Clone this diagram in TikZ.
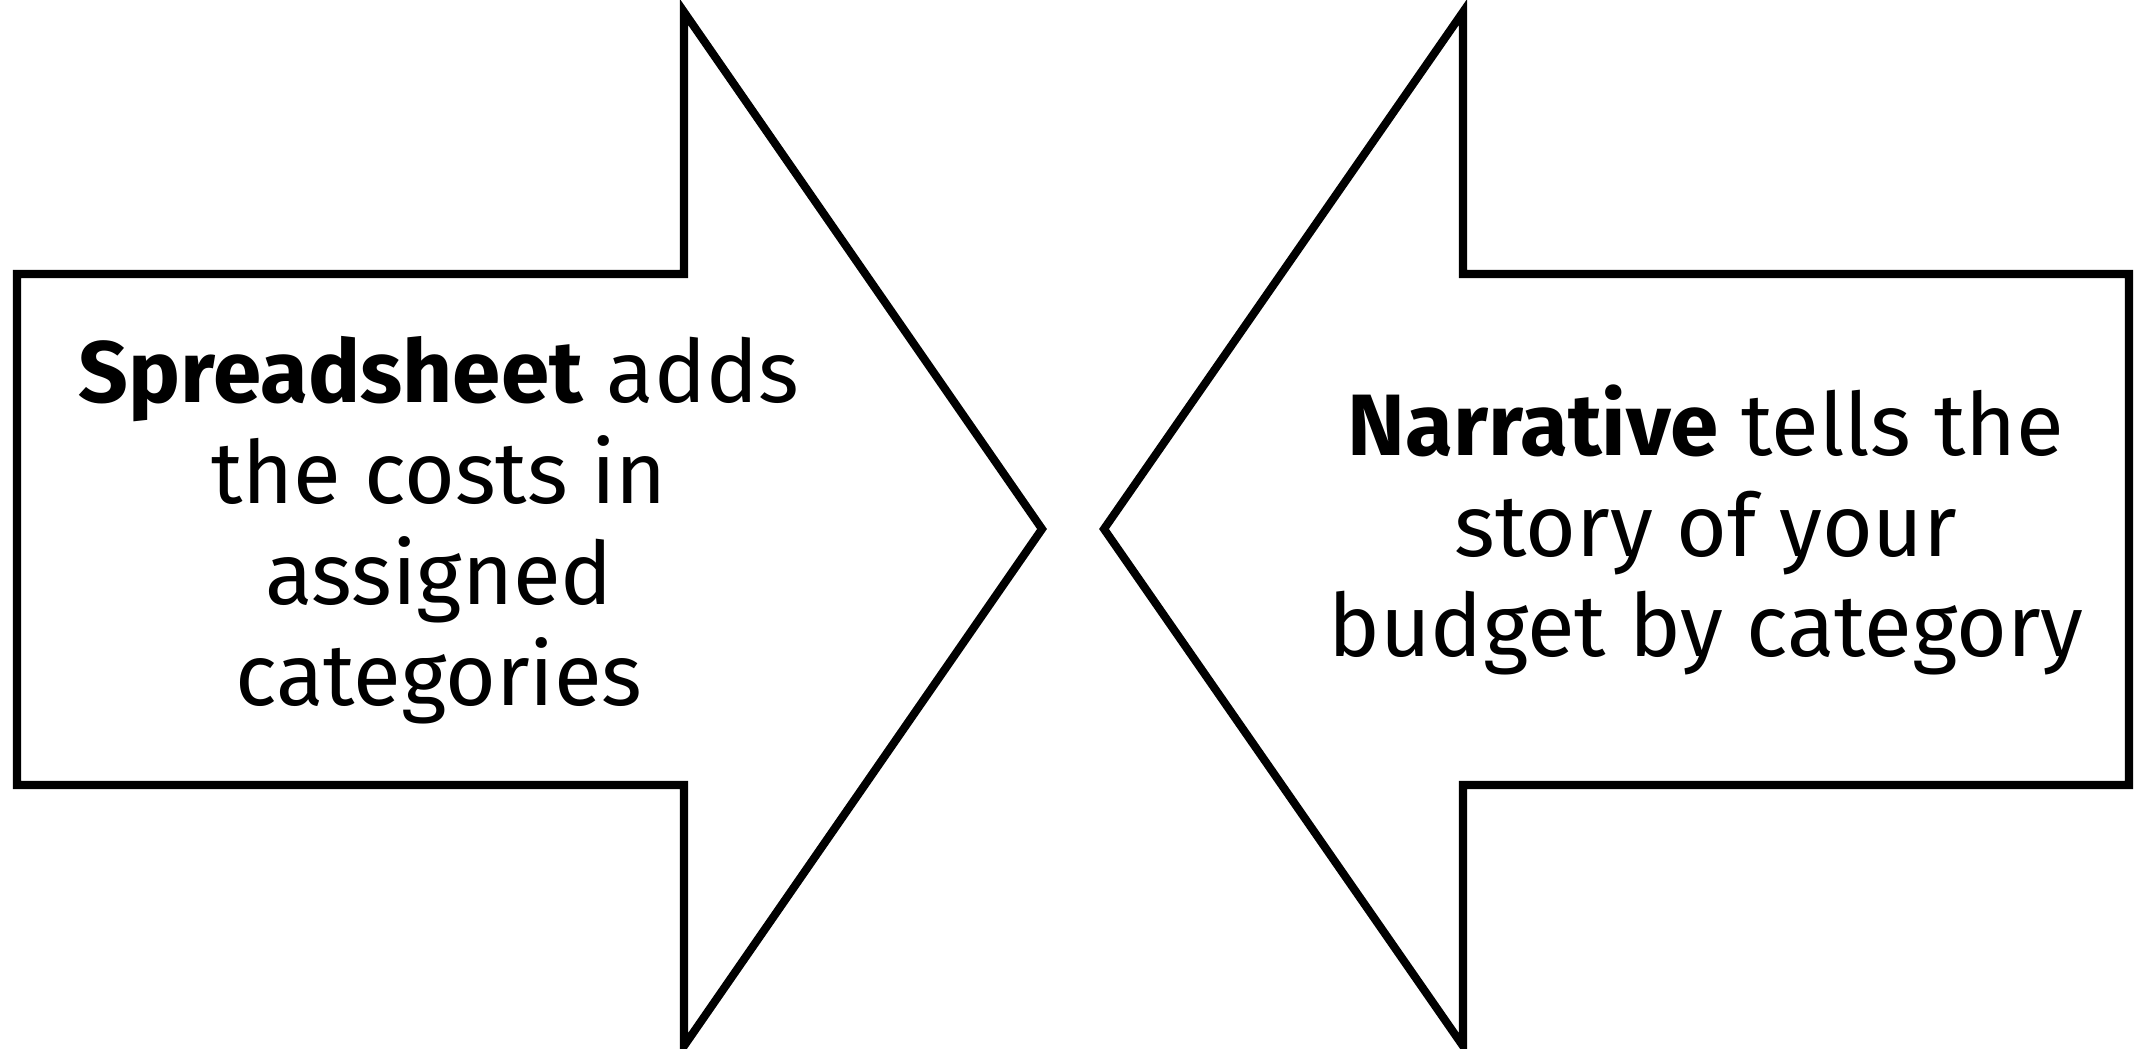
\documentclass[tikz,border=0pt]{standalone}
\usepackage{fontspec}
\setmainfont{Fira Sans}
\usepackage{tikz}
\tikzstyle{bigarrow} = [draw=black, line width=2.3pt, line join=miter]
\tikzstyle{arrowtext} = [align=center, inner sep=0pt,
font=\fontsize{24.8}{28.7}\selectfont]

\begin{document}
\begin{tikzpicture}
		\useasboundingbox (0,0) rectangle (21.34,10.48);
		% left arrow, pointing right
		\draw [bigarrow] (0.17,7.74) -- (6.84,7.74) -- (6.84,10.36) -- (10.42,5.19)
			-- (6.84,0.02) -- (6.84,2.63) -- (0.17,2.63) -- cycle;
		% right arrow, pointing left
		\draw [bigarrow] (21.29,7.74) -- (14.63,7.74) -- (14.63,10.36) -- (11.04,5.19)
			-- (14.63,0.02) -- (14.63,2.63) -- (21.29,2.63) -- cycle;
		
		\node (sheet) [arrowtext] at (4.39,5.18) {\textbf{Spreadsheet} adds\\the costs in\\assigned\\categories};
		\node (story) [arrowtext] at (17.06,5.18) {\textbf{Narrative} tells the\\story of your\\budget by category};
	\end{tikzpicture}
\end{document}
